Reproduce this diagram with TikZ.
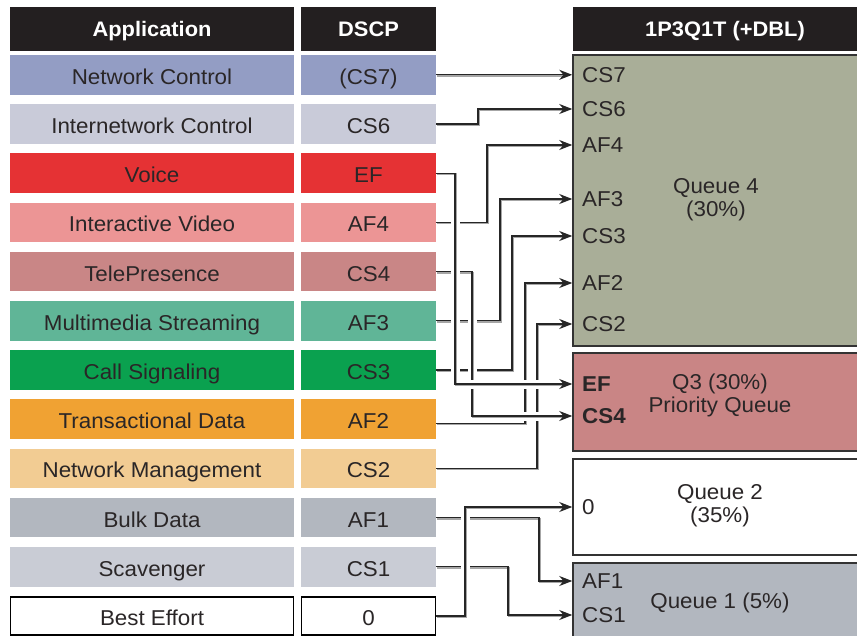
\documentclass[tikz,border=0pt]{standalone}
\usepackage{fontspec}
\setmainfont[FakeStretch=1.04]{Liberation Sans}
\usetikzlibrary{arrows.meta,backgrounds}
\definecolor{hdr}{HTML}{231F20}
\definecolor{txt}{HTML}{2A2627}
\definecolor{cNC}{HTML}{939DC4}
\definecolor{cIC}{HTML}{C9CBD9}
\definecolor{cVO}{HTML}{E53234}
\definecolor{cIV}{HTML}{EC9595}
\definecolor{cTP}{HTML}{C98686}
\definecolor{cMS}{HTML}{60B597}
\definecolor{cCS}{HTML}{0AA14F}
\definecolor{cTD}{HTML}{F0A233}
\definecolor{cNM}{HTML}{F2CC93}
\definecolor{cBD}{HTML}{B2B7BF}
\definecolor{cSC}{HTML}{C9CCD5}
\definecolor{cQ4}{HTML}{A9AE98}
\definecolor{cQ3}{HTML}{C98585}
\definecolor{cQ1}{HTML}{B2B7BF}
\definecolor{qborder}{HTML}{333333}
\definecolor{wirecol}{HTML}{262626}
\definecolor{shadowgray}{HTML}{A6A6A6}
\tikzset{
  base/.style={font=\fontsize{21.5}{23}\selectfont, text=txt, inner sep=0pt},
  rowtext/.style={base, text height=19pt, text depth=0pt},
  app/.style={rowtext, minimum width=284pt, minimum height=39.5pt},
  dscp/.style={rowtext, minimum width=135pt, minimum height=39.5pt},
  hdrbox/.style={fill=hdr, text=white, font=\fontsize{21}{23}\selectfont\bfseries, minimum height=44pt, inner sep=0pt, text height=15pt, text depth=1pt},
  qbox/.style={draw=qborder, line width=1.5pt, inner sep=0pt},
  qlab/.style={base, anchor=west},
  qtext/.style={base, align=center},
  halo/.style={draw=white, line width=9pt, shorten >=14pt, shorten <=1pt},
  shade/.style={draw=shadowgray, line width=1.8pt, shorten >=10pt, transform canvas={xshift=1.1pt,yshift=-1.1pt}},
  wire/.style={draw=wirecol, line width=1.3pt, -{Stealth[length=13pt,width=10pt]}},
}
\newcommand\conn[1]{\path[halo] #1; \path[shade] #1; \path[wire] #1;}
\begin{document}
\begin{tikzpicture}[x=1pt,y=-1pt]
\useasboundingbox (0,0) rectangle (857,635);
\clip (0,0) rectangle (857,635);
% headers
\node[hdrbox, minimum width=284pt] (hApp) at (152,29) {Application};
\node[hdrbox, minimum width=135pt] (hDscp) at (368.5,29) {DSCP};
\node[hdrbox, minimum width=304pt] (hQ) at (725,29) {1P3Q1T (+DBL)};
% application column
\node[app, fill=cNC] (a0) at (152,74.8) {Network Control};
\node[app, fill=cIC] (a1) at (152,124.0) {Internetwork Control};
\node[app, fill=cVO] (a2) at (152,173.2) {Voice};
\node[app, fill=cIV] (a3) at (152,222.4) {Interactive Video};
\node[app, fill=cTP] (a4) at (152,271.6) {TelePresence};
\node[app, fill=cMS] (a5) at (152,320.8) {Multimedia Streaming};
\node[app, fill=cCS] (a6) at (152,370.0) {Call Signaling};
\node[app, fill=cTD] (a7) at (152,419.2) {Transactional Data};
\node[app, fill=cNM] (a8) at (152,468.4) {Network Management};
\node[app, fill=cBD] (a9) at (152,517.6) {Bulk Data};
\node[app, fill=cSC] (a10) at (152,566.8) {Scavenger};
\node[app, fill=white, draw=black, line width=1.3pt, minimum width=282.7pt, minimum height=38.2pt] (a11) at (152,616.0) {Best Effort};
% dscp column
\node[dscp, fill=cNC] (d0) at (368.5,74.8) {(CS7)};
\node[dscp, fill=cIC] (d1) at (368.5,124.0) {CS6};
\node[dscp, fill=cVO] (d2) at (368.5,173.2) {EF};
\node[dscp, fill=cIV] (d3) at (368.5,222.4) {AF4};
\node[dscp, fill=cTP] (d4) at (368.5,271.6) {CS4};
\node[dscp, fill=cMS] (d5) at (368.5,320.8) {AF3};
\node[dscp, fill=cCS] (d6) at (368.5,370.0) {CS3};
\node[dscp, fill=cTD] (d7) at (368.5,419.2) {AF2};
\node[dscp, fill=cNM] (d8) at (368.5,468.4) {CS2};
\node[dscp, fill=cBD] (d9) at (368.5,517.6) {AF1};
\node[dscp, fill=cSC] (d10) at (368.5,566.8) {CS1};
\node[dscp, fill=white, draw=black, line width=1.3pt, minimum width=133.7pt, minimum height=38.2pt] (d11) at (368.5,616.0) {0};
% queue boxes
\node[qbox, fill=cQ4, minimum width=292pt, minimum height=291pt] (q4) at (719,200.5) {};
\node[qbox, fill=cQ3, minimum width=292pt, minimum height=98pt] (q3) at (719,402) {};
\node[qbox, fill=white, minimum width=292pt, minimum height=96pt] (q2) at (719,507) {};
\node[qbox, fill=cQ1, minimum width=292pt, minimum height=80pt] (q1) at (719,603) {};
\node[qtext] (t4) at (716,200) {Queue 4\\(30\%)};
\node[qtext] (t3) at (720,395) {Q3 (30\%)\\Priority Queue};
\node[qtext] (t2) at (720,506) {Queue 2\\(35\%)};
\node[qtext] (t1) at (720,603) {Queue 1 (5\%)};
% queue entry labels
\node[qlab] (nCS7) at (582,75) {CS7};
\node[qlab] (nCS6) at (582,109) {CS6};
\node[qlab] (nAF4) at (582,145) {AF4};
\node[qlab] (nAF3) at (582,199) {AF3};
\node[qlab] (nCS3) at (582,236) {CS3};
\node[qlab] (nAF2) at (582,283) {AF2};
\node[qlab] (nCS2) at (582,324) {CS2};
\node[qlab, font=\fontsize{21.5}{23}\selectfont\bfseries] (nEF) at (582,384) {EF};
\node[qlab, font=\fontsize{21.5}{23}\selectfont\bfseries] (nCS4) at (582,416) {CS4};
\node[qlab] (n0) at (582,507) {0};
\node[qlab] (nAF1) at (582,581) {AF1};
\node[qlab] (nCS1) at (582,615) {CS1};
% vertical routing lines
\coordinate (vCS6) at (478,0);
\coordinate (vAF4) at (487,0);
\coordinate (vEF) at (455,0);
\coordinate (vAF3) at (500,0);
\coordinate (vCS3) at (512,0);
\coordinate (vCS4) at (472,0);
\coordinate (vAF2) at (525,0);
\coordinate (vCS2) at (537,0);
\coordinate (vAF1) at (539,0);
\coordinate (vCS1) at (508,0);
\coordinate (v0) at (465,0);
\coordinate (sAF2) at ([yshift=-4pt]d7.east);
\begin{pgfonlayer}{background}
\conn{(d0.east) -- (q4.west |- d0.east)}
\conn{(d1.east) -| (vCS6 |- nCS6) -- (q4.west |- nCS6)}
\conn{(d3.east) -| (vAF4 |- nAF4) -- (q4.west |- nAF4)}
\conn{(d5.east) -| (vAF3 |- nAF3) -- (q4.west |- nAF3)}
\conn{(d6.east) -| (vCS3 |- nCS3) -- (q4.west |- nCS3)}
\conn{(sAF2) -| (vAF2 |- nAF2) -- (q4.west |- nAF2)}
\conn{(d8.east) -| (vCS2 |- nCS2) -- (q4.west |- nCS2)}
\conn{(d4.east) -| (vCS4 |- nCS4) -- (q3.west |- nCS4)}
\conn{(d2.east) -| (vEF |- nEF) -- (q3.west |- nEF)}
\conn{(d9.east) -| (vAF1 |- nAF1) -- (q1.west |- nAF1)}
\conn{(d10.east) -| (vCS1 |- nCS1) -- (q1.west |- nCS1)}
\conn{(d11.east) -| (v0 |- n0) -- (q2.west |- n0)}
\end{pgfonlayer}
\end{tikzpicture}
\end{document}
